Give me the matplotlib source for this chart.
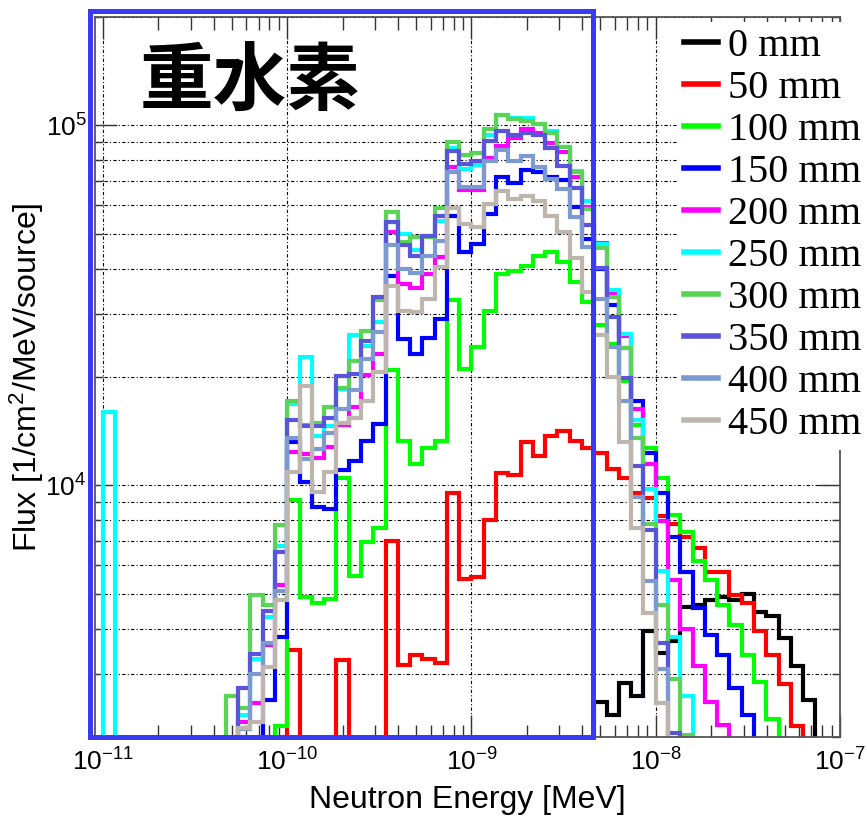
import numpy as np
import matplotlib.pyplot as plt
from matplotlib.patches import Rectangle
from matplotlib.lines import Line2D
from matplotlib.ticker import NullFormatter

plt.rcParams['font.family'] = ['Liberation Sans', 'DejaVu Sans']
plt.rcParams['mathtext.fontset'] = 'custom'
plt.rcParams['mathtext.rm'] = 'Liberation Sans'
plt.rcParams['mathtext.it'] = 'Liberation Sans:italic'

# 15 log bins per decade, 1e-11 .. 1e-7 MeV
edges = np.logspace(-11, -7, 61)

labels = ['0 mm', '50 mm', '100 mm', '150 mm', '200 mm',
          '250 mm', '300 mm', '350 mm', '400 mm', '450 mm']
colors = ['#000000', '#ff0000', '#00ff00', '#0000ff', '#ff00ff',
          '#00ffff', '#59d454', '#5954d9', '#7d99d1', '#beb6ad']
x_ticks = [1e-11, 1e-10, 1e-9, 1e-8, 1e-7]
y_ticks = [1e4, 1e5]

# flux per bin (0 = empty bin)
flux_0mm = [0]*40 + [2.5e3, 2.3e3, 2.82e3, 2.6e3, 3.93e3, 3.42e3, 3.7e3, 4.6e3,
                     4.65e3, 4.8e3, 4.9e3, 4.8e3, 4.98e3, 4.45e3, 4.35e3, 3.76e3,
                     3.15e3, 2.53e3, 0, 0]
flux_50mm = [0]*15 + [3.5e3, 0, 0, 0, 3.28e3, 0, 0, 0, 7.0e3, 3.16e3, 3.37e3, 3.3e3,
                      3.22e3, 9.5e3, 5.5e3, 5.55e3, 8.0e3, 1.08e4, 1.07e4, 1.32e4,
                      1.21e4, 1.37e4, 1.42e4, 1.33e4, 1.27e4, 1.23e4, 1.11e4, 1.05e4,
                      9.5e3, 9.2e3, 8.2e3, 7.8e3, 7.2e3, 6.7e3, 5.75e3, 5.75e3,
                      4.97e3, 4.7e3, 3.95e3, 3.37e3, 2.8e3, 2.15e3, 0, 0, 0]
flux_100mm = [0]*14 + [2.15e3, 9.1e3, 4.9e3, 4.7e3, 4.85e3, 1.05e4, 5.6e3, 6.95e3,
                       7.6e3, 2.09e4, 1.33e4, 1.15e4, 1.27e4, 1.33e4, 3.27e4, 2.11e4,
                       2.42e4, 3.06e4, 3.87e4, 3.93e4, 4.07e4, 4.35e4, 4.46e4, 4.17e4,
                       3.68e4, 3.23e4, 2.79e4, 2.47e4, 1.95e4, 1.47e4, 1.27e4, 1.05e4,
                       8.3e3, 7.4e3, 6.15e3, 5.45e3, 4.65e3, 4.1e3, 3.38e3, 2.84e3,
                       2.25e3, 0, 0, 0, 0, 0]
flux_150mm = [0]*13 + [2.53e3, 3.8e3, 1.32e4, 1.02e4, 8.7e3, 8.6e3, 1.1e4, 1.17e4,
                       1.33e4, 1.48e4, 3.82e4, 2.55e4, 2.32e4, 2.56e4, 2.89e4, 5.6e4,
                       4.46e4, 4.68e4, 5.67e4, 7.17e4, 6.9e4, 7.5e4, 7.42e4, 7.17e4,
                       7.05e4, 5.95e4, 4.83e4, 3.98e4, 3.17e4, 2.4e4, 1.72e4, 1.23e4,
                       9.5e3, 7.2e3, 5.75e3, 4.57e3, 3.85e3, 3.38e3, 2.74e3, 2.3e3,
                       0, 0, 0, 0, 0, 0, 0]
flux_200mm = [0]*11 + [2.2e3, 2.49e3, 3.6e3, 5.3e3, 1.24e4, 1.22e4, 1.19e4, 1.28e4,
                       1.47e4, 1.65e4, 2.02e4, 2.32e4, 5.04e4, 3.63e4, 3.54e4, 3.87e4,
                       4.3e4, 7.64e4, 6.62e4, 6.62e4, 8.14e4, 8.77e4, 9.2e4, 9.75e4,
                       9.55e4, 8.95e4, 8.44e4, 7.17e4, 5.95e4, 4.7e4, 3.4e4, 2.6e4,
                       1.63e4, 1.15e4, 7.95e3, 5.45e3, 3.99e3, 3.14e3, 2.5e3, 2.16e3,
                       0, 0, 0, 0, 0, 0, 0, 0, 0]
flux_250mm = [1.6e4] + [0]*10 + [2.3e3, 3.3e3, 4.3e3, 6.8e3, 1.68e4, 2.27e4, 1.37e4,
                                 1.46e4, 1.85e4, 2.62e4, 2.44e4, 2.84e4, 5.4e4, 5.0e4,
                                 4.5e4, 4.9e4, 5.44e4, 8.67e4, 7.55e4, 7.75e4, 9.4e4,
                                 1.07e5, 1.05e5, 1.05e5, 1.01e5, 9.65e4, 8.7e4, 7.46e4,
                                 6.17e4, 4.68e4, 3.48e4, 2.64e4, 1.52e4, 9.8e3, 5.8e3,
                                 3.8e3, 2.6e3] + [0]*12
flux_300mm = [0]*10 + [2.6e3, 2.4e3, 4.97e3, 4.65e3, 7.77e3, 1.72e4, 1.47e4, 1.49e4,
                       1.65e4, 1.87e4, 2.22e4, 2.68e4, 3.27e4, 5.73e4, 4.75e4, 4.9e4,
                       4.9e4, 5.88e4, 9.0e4, 8.3e4, 8.4e4, 9.8e4, 1.066e5, 1.04e5,
                       1.03e5, 1.01e5, 9.5e4, 8.71e4, 7.4e4, 5.85e4, 4.55e4, 3.33e4,
                       2.4e4, 1.35e4, 7.8e3, 4.65e3, 2.9e3, 2.02e3] + [0]*12
flux_350mm = [0]*11 + [2.74e3, 3.39e3, 4.48e3, 6.55e3, 1.52e4, 1.46e4, 1.46e4, 1.54e4,
                       2.01e4, 2.04e4, 2.51e4, 3.33e4, 5.4e4, 4.66e4, 4.35e4, 4.93e4,
                       5.61e4, 8.5e4, 7.8e4, 7.96e4, 9.05e4, 9.62e4, 9.4e4, 9.5e4,
                       9.4e4, 8.67e4, 7.7e4, 6.72e4, 5.28e4, 4.01e4, 2.93e4, 1.99e4,
                       1.13e4, 7.5e3, 3.65e3, 2.05e3] + [0]*13
flux_400mm = [0]*11 + [2.1e3, 3.0e3, 3.65e3, 5.1e3, 1.35e4, 1.18e4, 1.26e4, 1.4e4,
                       1.63e4, 1.84e4, 2.25e4, 2.67e4, 4.64e4, 4.0e4, 3.9e4, 4.35e4,
                       4.78e4, 7.4e4, 6.76e4, 6.76e4, 7.96e4, 8.55e4, 7.96e4, 8.2e4,
                       7.64e4, 7.08e4, 6.65e4, 5.55e4, 4.58e4, 3.3e4, 2.42e4, 1.71e4,
                       9.3e3, 5.42e3, 3.08e3] + [0]*14
flux_450mm = [0]*11 + [2.12e3, 2.2e3, 3.12e3, 4.8e3, 1.09e4, 1.89e4, 9.6e3, 1.09e4,
                       1.49e4, 1.54e4, 1.71e4, 2.07e4, 3.59e4, 3.06e4, 3.04e4, 3.3e4,
                       4.04e4, 5.88e4, 5.32e4, 5.21e4, 6.04e4, 6.58e4, 6.24e4, 6.37e4,
                       6.17e4, 5.61e4, 5.06e4, 4.27e4, 3.45e4, 2.62e4, 2.0e4, 1.32e4,
                       7.6e3, 4.42e3, 2.49e3] + [0]*14

series = [flux_0mm, flux_50mm, flux_100mm, flux_150mm, flux_200mm,
          flux_250mm, flux_300mm, flux_350mm, flux_400mm, flux_450mm]

W, H = 867, 817
fig = plt.figure(figsize=(W/100, H/100), dpi=100)
ax = fig.add_axes([95/W, 1-737/H, (840-95)/W, (737-17)/H])
ax.set_xscale('log')
ax.set_yscale('log')

for vals, col in zip(series, colors):
    v = np.asarray(vals, dtype=float)
    v = np.where(v > 0, v, 1.0)   # empty bins drop below the axis
    ax.stairs(v, edges, baseline=1.0, color=col, lw=3)

ax.set_xlim(9.05e-12, 1e-7)
ax.set_ylim(2e3, 2e5)
ax.set_xticks(x_ticks)
ax.set_yticks(y_ticks)

gkw = dict(color='black', lw=0.8, linestyle=(0, (3, 2, 1, 2)))
ax.grid(True, which='major', axis='x', **gkw)
ax.grid(True, which='both', axis='y', **gkw)
ax.set_axisbelow(True)

ax.tick_params(which='both', direction='in', top=True, right=True, color='#333333')
ax.tick_params(axis='x', which='major', length=16, width=1, labelsize=19, pad=8)
ax.tick_params(axis='x', which='minor', length=9, width=1)
ax.tick_params(axis='y', which='major', length=16, width=1, labelsize=19, pad=6)
ax.tick_params(axis='y', which='minor', length=6, width=1)
ax.xaxis.set_minor_formatter(NullFormatter())
ax.yaxis.set_minor_formatter(NullFormatter())
for s in ax.spines.values():
    s.set_color('#555555')
    s.set_linewidth(1.3)

ax.set_xlabel('Neutron Energy [MeV]', fontsize=23)
ax.set_ylabel('Flux [1/cm$^2$/MeV/source]', fontsize=23)
ax.xaxis.set_label_coords(0.5, (737-785)/720)
ax.yaxis.set_label_coords((46-95)/745, 0.5)

handles = [Line2D([], [], color=c, lw=4) for c in colors]
fig.legend(handles, labels, loc='upper left', bbox_to_anchor=(678/W, 1-22/H),
           prop={'family': 'Liberation Serif', 'size': 29},
           frameon=True, facecolor='white', edgecolor='none', framealpha=1,
           fancybox=False, borderpad=0.15, labelspacing=0.12,
           handlelength=0.85, handletextpad=0.25, borderaxespad=0)

fig.text(250/W, 1-84/H, '重水素', fontsize=53, fontweight='bold',
         family=['Noto Sans CJK JP'], ha='center', va='center')

box = Rectangle((89.5/W, 1-736.5/H), (592.5-89.5)/W, (736.5-11)/H,
                transform=fig.transFigure, fill=False, edgecolor='#3a3af5',
                lw=3.6, zorder=10)
fig.add_artist(box)

fig.savefig('out.png', dpi=100)
